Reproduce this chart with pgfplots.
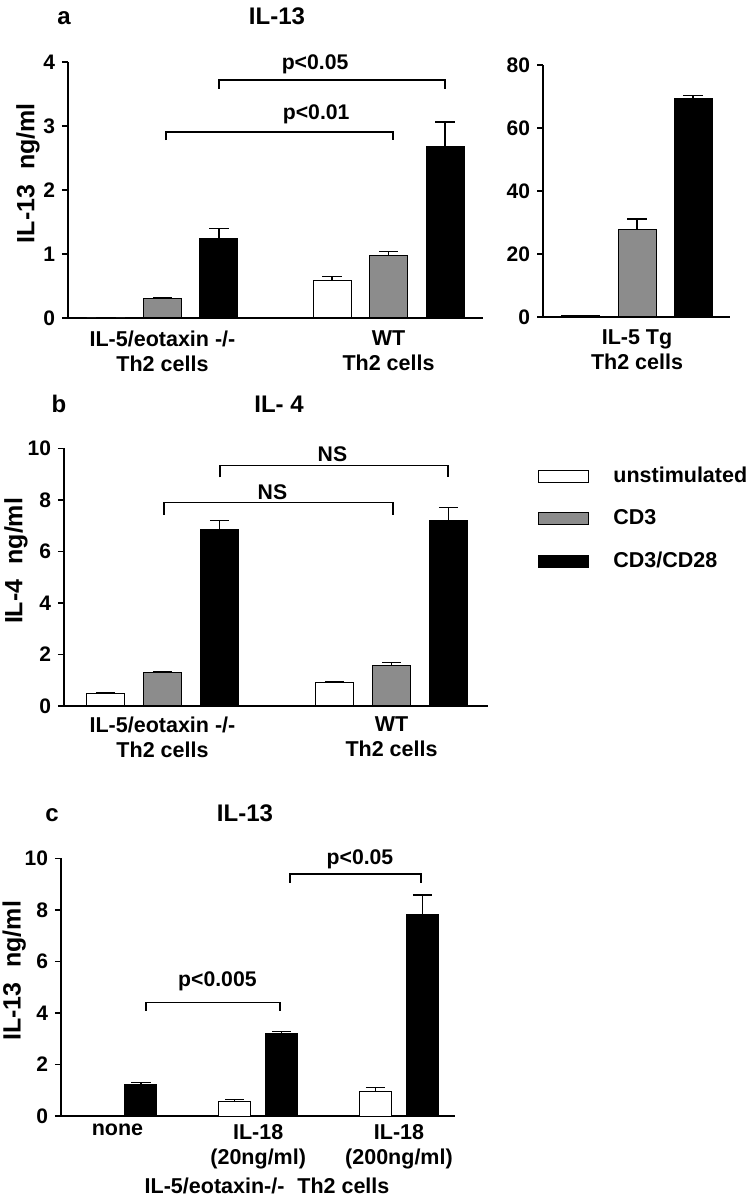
\documentclass[border=0pt]{standalone}
\usepackage{pgfplots}
\pgfplotsset{compat=1.18}
\usepackage{fontspec}
\setmainfont{Liberation Sans}
\definecolor{midgray}{RGB}{140,140,140}
\newcommand\tickf{\fontsize{10.5}{12}\selectfont\bfseries}
\newcommand\labf{\fontsize{10.75}{12.5}\selectfont\bfseries}
\newcommand\titf{\fontsize{12}{14}\selectfont\bfseries}
\newcommand\ylf{\fontsize{12.5}{14}\selectfont\bfseries}
\newcommand\pf{\fontsize{10.6}{12}\selectfont\bfseries}
\tikzset{brk/.style={line width=0.8pt, black}}
\pgfplotsset{
  panel/.style={scale only axis, ybar, axis x line*=bottom, axis y line*=left,
    enlargelimits=false, clip=false,
    axis line style={line width=0.75pt, black},
    tick align=outside, major tick length=3pt,
    y tick style={line width=0.75pt, black},
    x tick style={draw=none},
    /pgf/number format/assume math mode=true,
    yticklabel style={font=\tickf},
    xticklabel style={font=\labf, align=center},
  },
  unst/.style={fill=white, draw=black, line width=0.5pt},
  cd3/.style={fill=midgray, draw=black, line width=0.5pt},
  cd28/.style={fill=black, draw=black, line width=0.5pt},
  errs/.style={/pgfplots/error bars/y dir=plus, /pgfplots/error bars/y explicit,
    /pgfplots/error bars/error bar style={line width=0.7pt, black},
    /pgfplots/error bars/error mark options={rotate=90, mark size=4.8pt, line width=0.7pt, black}},
  lg/.style={legend image code/.code={\draw[##1] (0pt,-3pt) rectangle (25pt,3pt);}},
}
\begin{document}
\begin{tikzpicture}[x=0.5pt,y=0.5pt,font=\bfseries]
\path[use as bounding box] (0,0) rectangle (751,1199);

% ---------------- panel a (left) ----------------
\node[font=\titf, anchor=base] at (64,1174) {a};
\node[font=\titf, anchor=base] at (277,1174) {IL-13};
\begin{axis}[panel, at={(34pt,440.5pt)}, width=207.5pt, height=128pt,
  xmin=-0.418, xmax=1.418, ymin=0, ymax=4, ytick={0,1,2,3,4}, bar width=19pt,
  xtick={0,1}, xticklabels={{IL-5/eotaxin -/-\\Th2 cells},{WT\\Th2 cells}}]
\addplot[unst, errs, bar shift=-28.25pt] coordinates {(0,0) +- (0,0) (1,0.58) +- (0,0.07)};
\addplot[cd3, errs, bar shift=0pt] coordinates {(0,0.30) +- (0,0.02) (1,0.98) +- (0,0.06)};
\addplot[cd28, errs, bar shift=28.25pt] coordinates {(0,1.24) +- (0,0.16) (1,2.68) +- (0,0.38)};
\draw[brk] (axis cs:0.25,3.58) -- (axis cs:0.25,3.72) -- (axis cs:1.25,3.72) -- (axis cs:1.25,3.58);
\node[font=\pf] at (axis cs:0.675,3.97) {p<0.05};
\draw[brk] (axis cs:0.015,2.78) -- (axis cs:0.015,2.91) -- (axis cs:1.02,2.91) -- (axis cs:1.02,2.78);
\node[font=\pf] at (axis cs:0.68,3.19) {p<0.01};
\node[font=\ylf, rotate=90] at (rel axis cs:-0.0964,0.566) {IL-13\hspace{0.6em}ng/ml};
\end{axis}

% ---------------- panel a (right) ----------------
\begin{axis}[panel, at={(271.5pt,441pt)}, width=93.5pt, height=126pt,
  xmin=-0.94, xmax=0.93, ymin=0, ymax=80, ytick={0,20,40,60,80}, bar width=19pt,
  xtick={0}, xticklabels={{IL-5 Tg\\Th2 cells}}]
\addplot[unst, errs, bar shift=-28.25pt] coordinates {(0,0.4) +- (0,0)};
\addplot[cd3, errs, bar shift=0pt] coordinates {(0,27.9) +- (0,3.2)};
\addplot[cd28, errs, bar shift=28pt] coordinates {(0,69.3) +- (0,1.0)};
\end{axis}

% ---------------- panel b ----------------
\node[font=\titf, anchor=base] at (59,786) {b};
\node[font=\titf, anchor=base] at (279,786) {IL- 4};
\begin{axis}[panel, at={(32pt,246.5pt)}, width=212pt, height=128.85pt,
  xmin=-0.430, xmax=1.421, ymin=0, ymax=10, ytick={0,2,4,6,8,10}, bar width=19pt,
  xtick={0,1}, xticklabels={{IL-5/eotaxin -/-\\Th2 cells},{WT\\Th2 cells}},
  xticklabel style={yshift=1pt},
  legend style={at={(1.1179,0.943)}, anchor=north west, draw=none, fill=none,
    font=\labf, inner sep=0pt, row sep=8pt, column sep=10pt},
  legend cell align=left]
\addplot[unst, errs, lg, bar shift=-28.5pt] coordinates {(0,0.49) +- (0,0.03) (1,0.92) +- (0,0.01)};
\addplot[cd3, errs, lg, bar shift=0pt] coordinates {(0,1.31) +- (0,0.03) (1,1.59) +- (0,0.10)};
\addplot[cd28, errs, lg, bar shift=28.5pt] coordinates {(0,6.83) +- (0,0.37) (1,7.19) +- (0,0.51)};
\legend{unstimulated, CD3, CD3/CD28}
\draw[brk] (axis cs:0.251,8.87) -- (axis cs:0.251,9.33) -- (axis cs:1.247,9.33) -- (axis cs:1.247,8.87);
\node[font=\pf] at (axis cs:0.742,9.79) {NS};
\draw[brk] (axis cs:0.007,7.42) -- (axis cs:0.007,7.89) -- (axis cs:1.007,7.89) -- (axis cs:1.007,7.42);
\node[font=\pf] at (axis cs:0.48,8.30) {NS};
\node[font=\ylf, rotate=90] at (rel axis cs:-0.113,0.563) {IL-4\hspace{0.6em}ng/ml};
\end{axis}

% ---------------- panel c ----------------
\node[font=\titf, anchor=base] at (52,377) {c};
\node[font=\titf, anchor=base] at (245,377) {IL-13};
\begin{axis}[panel, at={(30.5pt,41.5pt)}, width=197pt, height=128.85pt,
  xmin=-0.401, xmax=2.398, ymin=0, ymax=10, ytick={0,2,4,6,8,10}, bar width=16pt,
  xtick={0,1,2}, xticklabels={{none},{IL-18\\(20ng/ml)},{IL-18\\(200ng/ml)}},
  xticklabel style={yshift=2.5pt}]
\addplot[unst, errs, bar shift=-11.75pt] coordinates {(1,0.56) +- (0,0.09) (2,0.94) +- (0,0.16)};
\addplot[cd28, errs, bar shift=11.75pt] coordinates {(0,1.23) +- (0,0.06) (1,3.21) +- (0,0.08) (2,7.83) +- (0,0.75)};
\draw[brk] (axis cs:0.2025,4.09) -- (axis cs:0.2025,4.41) -- (axis cs:1.154,4.41) -- (axis cs:1.154,4.09);
\node[font=\pf] at (axis cs:0.71,5.21) {p<0.005};
\draw[brk] (axis cs:1.225,9.05) -- (axis cs:1.225,9.38) -- (axis cs:2.156,9.38) -- (axis cs:2.156,9.05);
\node[font=\pf] at (axis cs:1.723,9.97) {p<0.05};
\node[font=\ylf, rotate=90] at (rel axis cs:-0.119,0.563) {IL-13\hspace{0.6em}ng/ml};
\node[font=\labf] at (rel axis cs:0.523,-0.2716) {IL-5/eotaxin-/-\hspace{0.6em}Th2 cells};
\end{axis}
\end{tikzpicture}
\end{document}
